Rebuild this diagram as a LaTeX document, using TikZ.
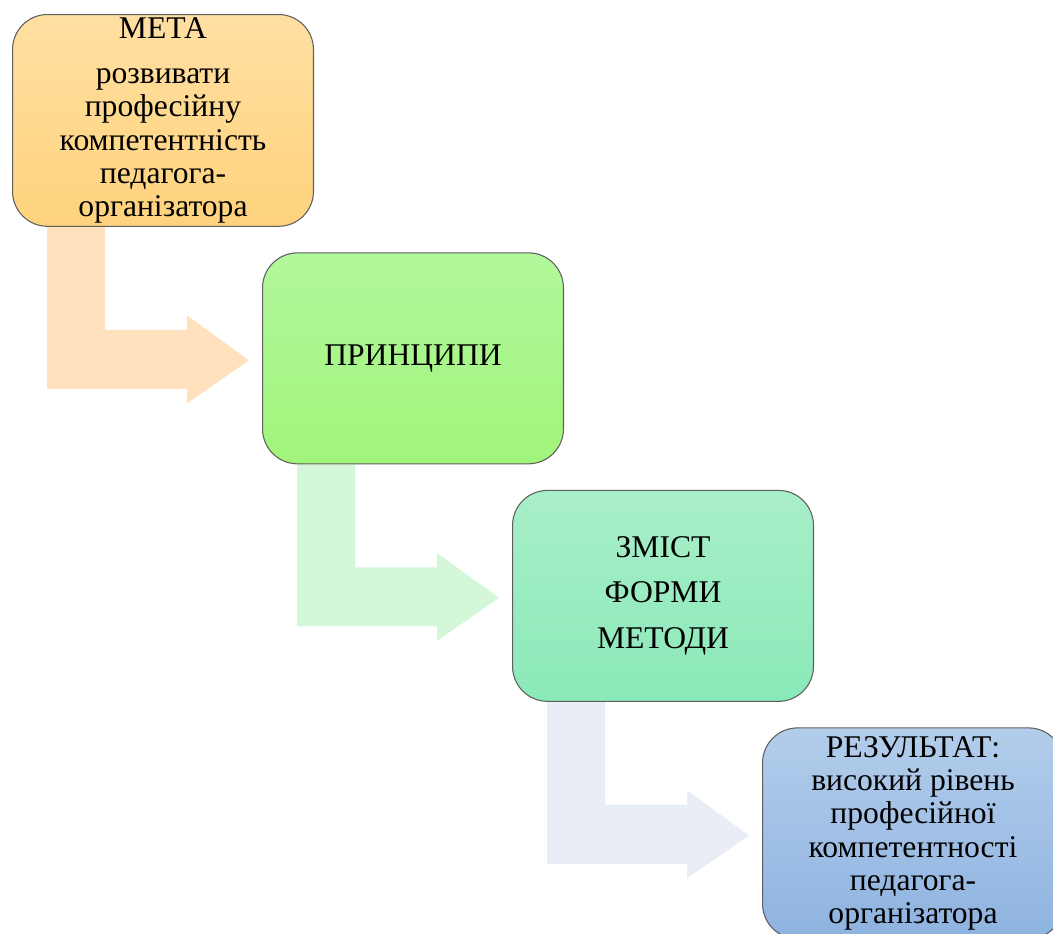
\documentclass[tikz,border=0pt]{standalone}
\usepackage{fontspec}
\setmainfont{Liberation Serif}
\newfontfamily\boxfont{Liberation Serif}
\usetikzlibrary{positioning, calc, backgrounds}
\definecolor{metaTop}{HTML}{FFDFA2}
\definecolor{metaBot}{HTML}{FFD37C}
\definecolor{prinTop}{HTML}{B2F89C}
\definecolor{prinBot}{HTML}{A0F47A}
\definecolor{zmTop}{HTML}{A9EEC9}
\definecolor{zmBot}{HTML}{8AE9B9}
\definecolor{rezTop}{HTML}{B3CDEB}
\definecolor{rezBot}{HTML}{8EB3E0}
\definecolor{arrOne}{HTML}{FFE1BE}
\definecolor{arrTwo}{HTML}{D5F7D9}
\definecolor{arrThree}{HTML}{E8EDF6}
\definecolor{edgeGray}{HTML}{5E5E5E}

% bent arrow from the lower left of one box to the left side of the next
\newcommand{\steparrow}[3]{%
  \coordinate (k) at (#1.south west |- #2.west);
  \fill[#3] ($(#1.south west)+(35,0)$) -- ($(#1.south west)+(93,0)$)
    -- ($(k)+(93,-28.5)$) -- ($(k)+(175,-28.5)$) -- ($(k)+(175,-43)$)
    -- ($(#2.west)+(-13,2)$) -- ($(k)+(175,45)$) -- ($(k)+(175,30.5)$)
    -- ($(k)+(35,30.5)$) -- cycle;}

\begin{document}
\begin{tikzpicture}[
      x=0.02cm, y=-0.02cm,
      every node/.style={font=\boxfont\fontsize{18pt}{18.8pt}\selectfont},
      stepbox/.style={draw=edgeGray, line width=0.6pt, rounded corners=0.7cm,
                      align=center, minimum width=6.02cm, minimum height=4.22cm,
                      inner sep=2pt},
      next/.style={stepbox, below right=0.51cm and -1.04cm of #1}
    ]
    \useasboundingbox (0,0) rectangle (1053,933);
    \clip (0,0) rectangle (1053,933);

    % --- the four steps ---
    \node[stepbox, anchor=north west, top color=metaTop, bottom color=metaBot] (meta) at (12,14)
      {МЕТА\\[0.24cm] розвивати\\ професійну\\ компетентність\\ педагога-\\ організатора};
    \node[next=meta, top color=prinTop, bottom color=prinBot] (pryntsypy) {ПРИНЦИПИ};
    \node[next=pryntsypy, top color=zmTop, bottom color=zmBot] (zmist)
      {ЗМІСТ\\[0.24cm] ФОРМИ\\[0.24cm] МЕТОДИ};
    \node[next=zmist, top color=rezTop, bottom color=rezBot] (rezultat)
      {РЕЗУЛЬТАТ:\\ високий рівень\\ професійної\\ компетентності\\ педагога-\\ організатора};

    % --- arrows behind the boxes ---
    \begin{scope}[on background layer]
      \steparrow{meta}{pryntsypy}{arrOne}
      \steparrow{pryntsypy}{zmist}{arrTwo}
      \steparrow{zmist}{rezultat}{arrThree}
    \end{scope}
  \end{tikzpicture}
\end{document}
